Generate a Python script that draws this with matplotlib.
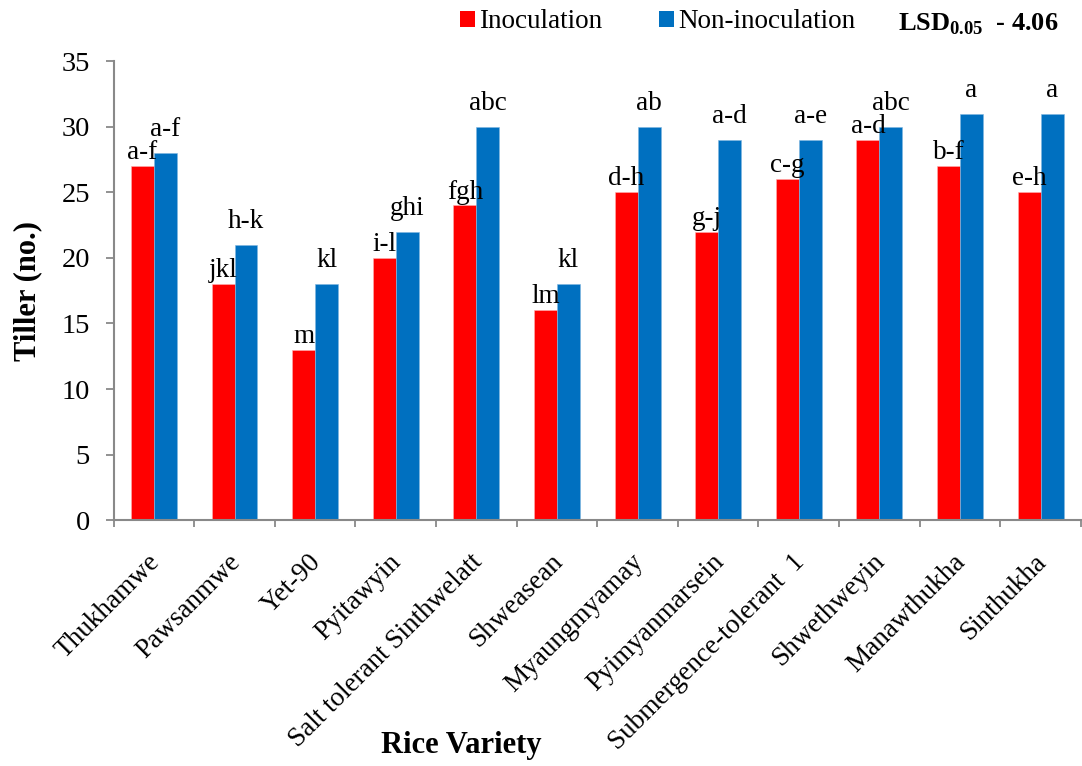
import numpy as np
import matplotlib
matplotlib.use("Agg")
import matplotlib.pyplot as plt
from matplotlib.patches import Patch
from matplotlib.ticker import FixedLocator
from matplotlib.transforms import ScaledTranslation

plt.rcParams['font.family'] = ['Liberation Serif', 'DejaVu Serif']
plt.rcParams['mathtext.fontset'] = 'custom'
plt.rcParams['mathtext.rm'] = 'Liberation Serif'
plt.rcParams['mathtext.bf'] = 'Liberation Serif:bold'

# Tiller counts per rice variety
varieties = ["Thukhamwe", "Pawsanmwe", "Yet-90", "Pyitawyin",
             "Salt tolerant Sinthwelatt", "Shweasean", "Myaungmyamay",
             "Pyimyanmarsein", "Submergence-tolerant  1", "Shwethweyin",
             "Manawthukha", "Sinthukha"]
inoculation = [27, 18, 13, 20, 24, 16, 25, 22, 26, 29, 27, 25]
non_inoculation = [28, 21, 18, 22, 30, 18, 30, 29, 29, 30, 31, 31]

# Mean separation letters
letters_inoc = ["a-f", "jkl", "m", "i-l", "fgh", "lm", "d-h", "g-j",
                "c-g", "a-d", "b-f", "e-h"]
letters_non = ["a-f", "h-k", "kl", "ghi", "abc", "kl", "ab", "a-d",
               "a-e", "abc", "a", "a"]

y_ticks = [0, 5, 10, 15, 20, 25, 30, 35]

RED = "#FF0000"
BLUE = "#0070C0"
GRAY = "#898989"

fig = plt.figure(figsize=(10.82, 7.66), dpi=100)
ax = fig.add_axes([0.105, 0.321, 0.894, 0.599])

x = np.arange(len(varieties))
w = 0.285
ax.bar(x - w / 2, inoculation, width=w, color=RED, edgecolor="#ffb0b0", linewidth=0.4)
ax.bar(x + w / 2, non_inoculation, width=w, color=BLUE, edgecolor="#7fb6e0", linewidth=0.4)

for xi, v, t in zip(x - w / 2, inoculation, letters_inoc):
    ax.annotate(t, (xi, v), xytext=(0, 5), textcoords="offset points",
                ha="center", va="baseline", fontsize=19.5)
for xi, v, t in zip(x + w / 2, non_inoculation, letters_non):
    ax.annotate(t, (xi, v), xytext=(0, 12), textcoords="offset points",
                ha="center", va="baseline", fontsize=19.5)

ax.set_xlim(-0.5, len(varieties) - 0.5)
ax.set_ylim(0, 35)
ax.set_yticks(y_ticks)
ax.tick_params(axis="y", labelsize=20.5, length=6, width=1.3, color=GRAY, pad=11)

ax.set_xticks(x)
ax.set_xticklabels(varieties, rotation=45, ha="right", va="top",
                   rotation_mode="anchor", fontsize=19.5)
ax.tick_params(axis="x", which="major", length=0, pad=21)
shift = ScaledTranslation(-7 / 100, 0, fig.dpi_scale_trans)
for lab in ax.get_xticklabels():
    lab.set_transform(lab.get_transform() + shift)
ax.xaxis.set_minor_locator(FixedLocator(np.arange(-0.5, len(varieties), 1.0)))
ax.tick_params(axis="x", which="minor", length=5, width=1.3, color=GRAY)

for s in ["top", "right"]:
    ax.spines[s].set_visible(False)
for s in ["left", "bottom"]:
    ax.spines[s].set_color(GRAY)
    ax.spines[s].set_linewidth(1.5)

ax.set_ylabel("Tiller (no.)", fontsize=22, fontweight="bold", labelpad=14)
fig.text(461 / 1082, 1 - 745 / 766, "Rice Variety", fontsize=22,
         fontweight="bold", ha="center", va="center")

handles = [Patch(facecolor=RED, label="Inoculation"),
           Patch(facecolor=BLUE, label="Non-inoculation")]
fig.legend(handles=handles, loc="center left", bbox_to_anchor=(460 / 1082, 1 - 22 / 766),
           ncol=2, frameon=False, fontsize=19.5, handlelength=0.55, handleheight=0.55,
           handletextpad=0.15, columnspacing=2.1, borderaxespad=0, borderpad=0)

fig.text(898 / 1082, 1 - 24 / 766, r"LSD$_{\mathbf{0.05}}$  - 4.06", fontsize=19,
         fontweight="bold", ha="left", va="center")

fig.savefig("out.png", dpi=100)
